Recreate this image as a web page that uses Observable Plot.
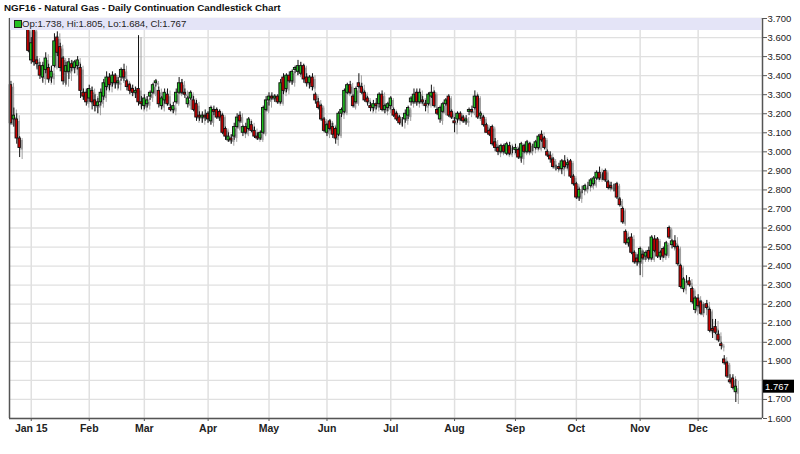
<!DOCTYPE html>
<html><head><meta charset="utf-8">
<script src="https://cdn.jsdelivr.net/npm/d3@7"></script>
<script src="https://cdn.jsdelivr.net/npm/@observablehq/plot@0.6"></script>
<style>
html,body{margin:0;padding:0;background:#fff;overflow:hidden;font-family:"Liberation Sans",Arial,sans-serif}
#wrap{position:relative;width:800px;height:454px;overflow:hidden}
#chart svg{display:block}
#title{position:absolute;left:4px;top:2px;font-size:9.8px;font-weight:bold;color:#111}
#legend{position:absolute;left:10px;top:18px;width:751px;height:12px;background:#e4e4f7;font-size:9.6px;color:#222;line-height:12px}
#legend .sq{position:absolute;left:4px;top:2px;width:6px;height:6px;background:#22c022;border:1px solid #222}
#legend .tx{position:absolute;left:12px;top:0}
</style>
</head><body>
<div id="wrap"><div id="chart"></div>
<div id="title">NGF16 - Natural Gas - Daily Continuation Candlestick Chart</div>
<div id="legend"><span class="sq"></span><span class="tx">Op:1.738, Hi:1.805, Lo:1.684, Cl:1.767</span></div>
</div>
<script>
// [open, high, low, close] per trading day; first entry is trading-day index -7
const firstIndex = -7;
const dec14 = [[3.35,3.37,3.14,3.15],[3.17,3.23,3.13,3.19],[3.17,3.20,3.04,3.07],[3.07,3.08,2.97,3.02],null,null,[3.64,3.70,3.52,3.53]];
const jan = [[3.48,3.60,3.46,3.57],[3.64,3.66,3.45,3.47],[3.48,3.50,3.43,3.46],[3.45,3.47,3.38,3.40],[3.39,3.47,3.36,3.45],
 [3.43,3.52,3.41,3.49],[3.44,3.46,3.36,3.38],[3.39,3.45,3.36,3.42],[3.45,3.62,3.44,3.58],[3.60,3.63,3.50,3.52],
 [3.55,3.57,3.42,3.44],[3.49,3.50,3.35,3.37],[3.42,3.47,3.35,3.45],[3.42,3.49,3.38,3.47],[3.46,3.48,3.42,3.44],
 [3.44,3.48,3.41,3.47],[3.45,3.50,3.43,3.48],[3.44,3.46,3.28,3.32],[3.31,3.33,3.27,3.29],[3.31,3.33,3.24,3.26]];
const feb = [[3.28,3.35,3.26,3.33],[3.32,3.34,3.22,3.26],[3.27,3.30,3.21,3.24],[3.24,3.28,3.20,3.26],[3.26,3.33,3.24,3.31],
 [3.29,3.38,3.27,3.36],[3.34,3.42,3.32,3.39],[3.39,3.41,3.32,3.35],[3.36,3.42,3.34,3.40],[3.40,3.41,3.33,3.36],
 [3.36,3.39,3.33,3.37],[3.39,3.44,3.37,3.43],[3.43,3.46,3.37,3.39],[3.37,3.38,3.32,3.34],[3.35,3.36,3.30,3.32],
 [3.33,3.35,3.29,3.31],[3.31,3.34,3.28,3.32],[3.33,3.61,3.24,3.26],[3.26,3.29,3.22,3.25]];
const mar = [[3.24,3.30,3.22,3.28],[3.25,3.29,3.23,3.27],[3.29,3.32,3.27,3.31],[3.31,3.36,3.30,3.35],[3.36,3.38,3.34,3.37],
 [3.32,3.34,3.23,3.25],[3.24,3.29,3.22,3.28],[3.27,3.33,3.25,3.31],[3.30,3.33,3.24,3.25],[3.23,3.25,3.21,3.22],
 [3.22,3.26,3.20,3.24],[3.26,3.33,3.25,3.31],[3.31,3.39,3.30,3.36],[3.36,3.38,3.30,3.31],[3.31,3.33,3.28,3.30],
 [3.25,3.29,3.23,3.28],[3.28,3.32,3.27,3.31],[3.27,3.29,3.21,3.22],[3.25,3.27,3.16,3.18],[3.19,3.21,3.16,3.18],
 [3.18,3.21,3.15,3.19],[3.19,3.22,3.16,3.18]];
const apr = [[3.20,3.21,3.15,3.17],[3.16,3.24,3.14,3.23],[3.22,3.24,3.19,3.21],[3.22,3.23,3.17,3.18],[3.21,3.22,3.16,3.18],
 [3.19,3.20,3.09,3.10],[3.12,3.13,3.06,3.08],[3.06,3.10,3.05,3.08],[3.07,3.09,3.04,3.06],[3.08,3.15,3.06,3.13],
 [3.13,3.20,3.12,3.18],[3.19,3.21,3.15,3.16],[3.10,3.14,3.08,3.13],[3.13,3.15,3.09,3.10],[3.12,3.18,3.11,3.17],
 [3.14,3.16,3.10,3.11],[3.11,3.13,3.07,3.08],[3.08,3.10,3.06,3.07],[3.07,3.11,3.06,3.10],[3.10,3.24,3.09,3.23],
 [3.22,3.29,3.21,3.27]];
const may = [[3.27,3.31,3.24,3.29],[3.29,3.31,3.27,3.28],[3.28,3.30,3.26,3.29],[3.29,3.30,3.25,3.26],[3.26,3.38,3.25,3.36],
 [3.39,3.41,3.30,3.32],[3.33,3.41,3.31,3.40],[3.40,3.42,3.36,3.37],[3.37,3.43,3.35,3.42],[3.43,3.45,3.41,3.44],
 [3.42,3.48,3.40,3.45],[3.41,3.47,3.40,3.45],[3.45,3.46,3.36,3.38],[3.39,3.41,3.34,3.36],[3.36,3.40,3.33,3.39],
 [3.39,3.41,3.32,3.34],[3.30,3.31,3.25,3.27],[3.26,3.28,3.22,3.23],[3.24,3.25,3.16,3.17],[3.17,3.18,3.10,3.11]];
const jun = [[3.10,3.15,3.08,3.14],[3.16,3.17,3.11,3.12],[3.13,3.15,3.07,3.09],[3.12,3.13,3.04,3.07],[3.09,3.21,3.08,3.20],
 [3.20,3.23,3.18,3.22],[3.21,3.33,3.20,3.32],[3.31,3.36,3.30,3.35],[3.35,3.37,3.30,3.31],[3.29,3.30,3.23,3.24],
 [3.26,3.34,3.25,3.33],[3.36,3.41,3.33,3.34],[3.34,3.36,3.30,3.31],[3.31,3.32,3.26,3.27],[3.28,3.29,3.24,3.26],
 [3.24,3.26,3.21,3.23],[3.23,3.27,3.21,3.25],[3.25,3.28,3.22,3.24],[3.25,3.31,3.23,3.30],[3.30,3.32,3.21,3.22],
 [3.22,3.25,3.20,3.24],[3.23,3.26,3.21,3.25]];
const jul = [[3.24,3.29,3.22,3.28],[3.22,3.23,3.18,3.19],[3.20,3.21,3.16,3.17],[3.18,3.19,3.14,3.15],[3.16,3.18,3.13,3.16],
 [3.17,3.22,3.15,3.20],[3.19,3.24,3.17,3.23],[3.26,3.29,3.24,3.28],[3.26,3.33,3.25,3.30],[3.31,3.33,3.24,3.26],
 [3.26,3.33,3.25,3.31],[3.27,3.29,3.25,3.26],[3.25,3.27,3.21,3.24],[3.25,3.31,3.24,3.30],[3.29,3.35,3.28,3.31],
 [3.31,3.32,3.23,3.24],[3.22,3.23,3.19,3.20],[3.17,3.24,3.15,3.23],[3.21,3.26,3.20,3.25],[3.25,3.28,3.24,3.27],
 [3.29,3.30,3.18,3.19],[3.21,3.22,3.17,3.18]];
const aug = [[3.16,3.18,3.10,3.15],[3.17,3.21,3.15,3.20],[3.20,3.21,3.16,3.17],[3.18,3.19,3.15,3.16],[3.16,3.19,3.14,3.17],
 [3.21,3.23,3.19,3.22],[3.22,3.24,3.20,3.21],[3.23,3.32,3.22,3.29],[3.29,3.30,3.17,3.18],[3.19,3.21,3.17,3.20],
 [3.18,3.19,3.13,3.14],[3.14,3.15,3.10,3.10],[3.11,3.12,3.08,3.09],[3.13,3.14,3.03,3.04],[3.05,3.07,3.00,3.02],
 [3.02,3.03,2.98,3.00],[3.00,3.04,2.99,3.03],[3.03,3.04,2.99,3.00],[2.99,3.05,2.98,3.04],[3.03,3.05,2.98,2.99],
 [3.01,3.03,2.99,3.01]];
const sep = [[3.01,3.04,2.99,3.02],[3.01,3.02,2.96,2.97],[2.97,3.05,2.94,3.04],[3.03,3.04,2.99,3.00],[3.00,3.06,2.99,3.05],
 [3.04,3.05,2.99,3.00],[3.02,3.04,3.00,3.02],[3.02,3.06,3.01,3.05],[3.02,3.09,3.01,3.08],[3.09,3.11,3.05,3.06],
 [3.07,3.08,3.01,3.02],[3.00,3.01,2.97,2.98],[2.98,3.00,2.94,2.96],[2.96,2.97,2.91,2.92],[2.92,2.93,2.90,2.92],
 [2.92,2.94,2.90,2.91],[2.91,2.96,2.88,2.95],[2.95,2.98,2.91,2.92],[2.93,2.96,2.91,2.94],[2.95,2.96,2.86,2.87],
 [2.87,2.88,2.82,2.83]];
const oct = [[2.83,2.84,2.75,2.76],[2.76,2.81,2.74,2.80],[2.80,2.82,2.78,2.80],[2.80,2.83,2.79,2.82],[2.82,2.84,2.80,2.82],
 [2.82,2.86,2.81,2.85],[2.83,2.87,2.82,2.86],[2.86,2.90,2.85,2.89],[2.89,2.92,2.85,2.86],[2.87,2.89,2.85,2.87],
 [2.90,2.91,2.84,2.85],[2.84,2.85,2.80,2.81],[2.82,2.84,2.80,2.81],[2.81,2.83,2.79,2.81],[2.83,2.84,2.75,2.76],
 [2.75,2.76,2.71,2.72],[2.70,2.71,2.62,2.63],[2.58,2.59,2.51,2.52],[2.52,2.55,2.50,2.54],[2.55,2.57,2.46,2.47],
 [2.47,2.48,2.41,2.42],[2.44,2.46,2.40,2.42]];
const nov = [[2.42,2.50,2.35,2.49],[2.46,2.48,2.43,2.44],[2.45,2.48,2.43,2.47],[2.48,2.50,2.43,2.44],[2.44,2.56,2.43,2.55],
 [2.54,2.56,2.47,2.48],[2.54,2.55,2.44,2.45],[2.45,2.48,2.43,2.47],[2.49,2.50,2.44,2.45],[2.46,2.53,2.45,2.52],
 [2.60,2.61,2.54,2.55],[2.51,2.54,2.49,2.53],[2.53,2.56,2.49,2.50],[2.50,2.51,2.40,2.41],[2.40,2.41,2.28,2.29],
 [2.28,2.34,2.26,2.33],[2.33,2.35,2.31,2.33],[2.32,2.34,2.29,2.30],[2.28,2.29,2.20,2.21],[2.17,2.24,2.15,2.23]];
const dec = [[2.23,2.25,2.18,2.19],[2.21,2.22,2.14,2.15],[2.17,2.20,2.15,2.17],[2.20,2.22,2.17,2.18],[2.17,2.18,2.05,2.06],
 [2.07,2.12,2.02,2.06],[2.08,2.12,2.04,2.05],[2.04,2.06,2.00,2.01],[1.99,2.00,1.96,1.98],[1.91,1.93,1.88,1.89],
 [1.89,1.90,1.81,1.82],[1.80,1.83,1.78,1.79],[1.81,1.83,1.75,1.76],[1.738,1.805,1.684,1.767]];

const monthTickIdx = [0,20,39,61,82,102,124,146,167,188,210,230];
const monthLabels = ["Jan 15","Feb","Mar","Apr","May","Jun","Jul","Aug","Sep","Oct","Nov","Dec"];
const priceTicks = [1.6,1.7,1.8,1.9,2.0,2.1,2.2,2.3,2.4,2.5,2.6,2.7,2.8,2.9,3.0,3.1,3.2,3.3,3.4,3.5,3.6,3.7];
const xDomain = [-7.5, 252.2];
const yDomain = [1.6, 3.7];

const monthsData = [dec14, jan, feb, mar, apr, may, jun, jul, aug, sep, oct, nov, dec];
const rows = [];
let idx = firstIndex;
monthsData.forEach((m, k) => {
  if (k > 0 && idx !== monthTickIdx[k-1]) throw new Error("month " + k + " starts at " + idx);
  for (const q of m) { if (q) rows.push({i: idx, o: q[0], h: q[1], l: q[2], c: q[3]}); idx++; }
});
const last = rows[rows.length - 1];
const hw = 0.42;

const plot = Plot.plot({
  width: 800, height: 454,
  marginLeft: 9, marginRight: 38, marginTop: 18, marginBottom: 36,
  x: {domain: xDomain, axis: null, label: null},
  y: {domain: yDomain, axis: null, label: null},
  style: {fontFamily: "Liberation Sans, Arial, sans-serif", background: "#fff"},
  marks: [
    Plot.ruleY(priceTicks, {stroke: "#e0e0e0", strokeWidth: 1.3}),
    Plot.ruleX(monthTickIdx, {stroke: "#e0e0e0", strokeWidth: 1.5}),
    Plot.ruleX(rows, {x: "i", y1: "l", y2: "h", stroke: "#a0a0a0", strokeWidth: 1, dx: 2.5, dy: 2}),
    Plot.rect(rows, {x1: d => d.i - hw, x2: d => d.i + hw, y1: "o", y2: "c", fill: "#a0a0a0", dx: 2.5, dy: 2}),
    Plot.ruleX(rows, {x: "i", y1: "l", y2: "h", stroke: "#111", strokeWidth: 1}),
    Plot.rect(rows, {x1: d => d.i - hw, x2: d => d.i + hw, y1: "o", y2: "c",
      fill: d => d.c > d.o ? "#20c020" : "#cc0000", stroke: "#111", strokeWidth: 0.9}),
    Plot.ruleX(xDomain, {stroke: "#555", strokeWidth: 1.5}),
    Plot.ruleY([yDomain[0]], {stroke: "#555", strokeWidth: 1.5}),
    Plot.axisY(priceTicks, {anchor: "right", label: null, tickSize: 4, tickPadding: 1, fontSize: 9.5, stroke: "#555",
      fill: "#222", tickFormat: d => Math.abs(d - 1.8) < 1e-9 ? "" : d3.format(".3f")(d)}),
    Plot.axisX(monthTickIdx, {anchor: "bottom", label: null, tickSize: 3, tickPadding: 3, fontSize: 10.5, fontWeight: "bold",
      fill: "#222", stroke: "#555", tickFormat: d => monthLabels[monthTickIdx.indexOf(d)]})
  ]
});
document.getElementById("chart").appendChild(plot);

// last-value tag on the right axis
const svg = d3.select(plot);
const yLast = plot.scale("y").apply(last.c);
const xRight = plot.scale("x").apply(xDomain[1]);
svg.append("rect").attr("x", xRight + 1).attr("y", yLast - 6.5).attr("width", 31).attr("height", 13).attr("fill", "#000");
svg.append("text").attr("x", xRight + 3).attr("y", yLast + 3.5).attr("fill", "#fff").attr("text-anchor", "start")
  .attr("font-size", 9.5).attr("font-family", "Liberation Sans, Arial, sans-serif").text(d3.format(".3f")(last.c));
</script>
</body></html>
